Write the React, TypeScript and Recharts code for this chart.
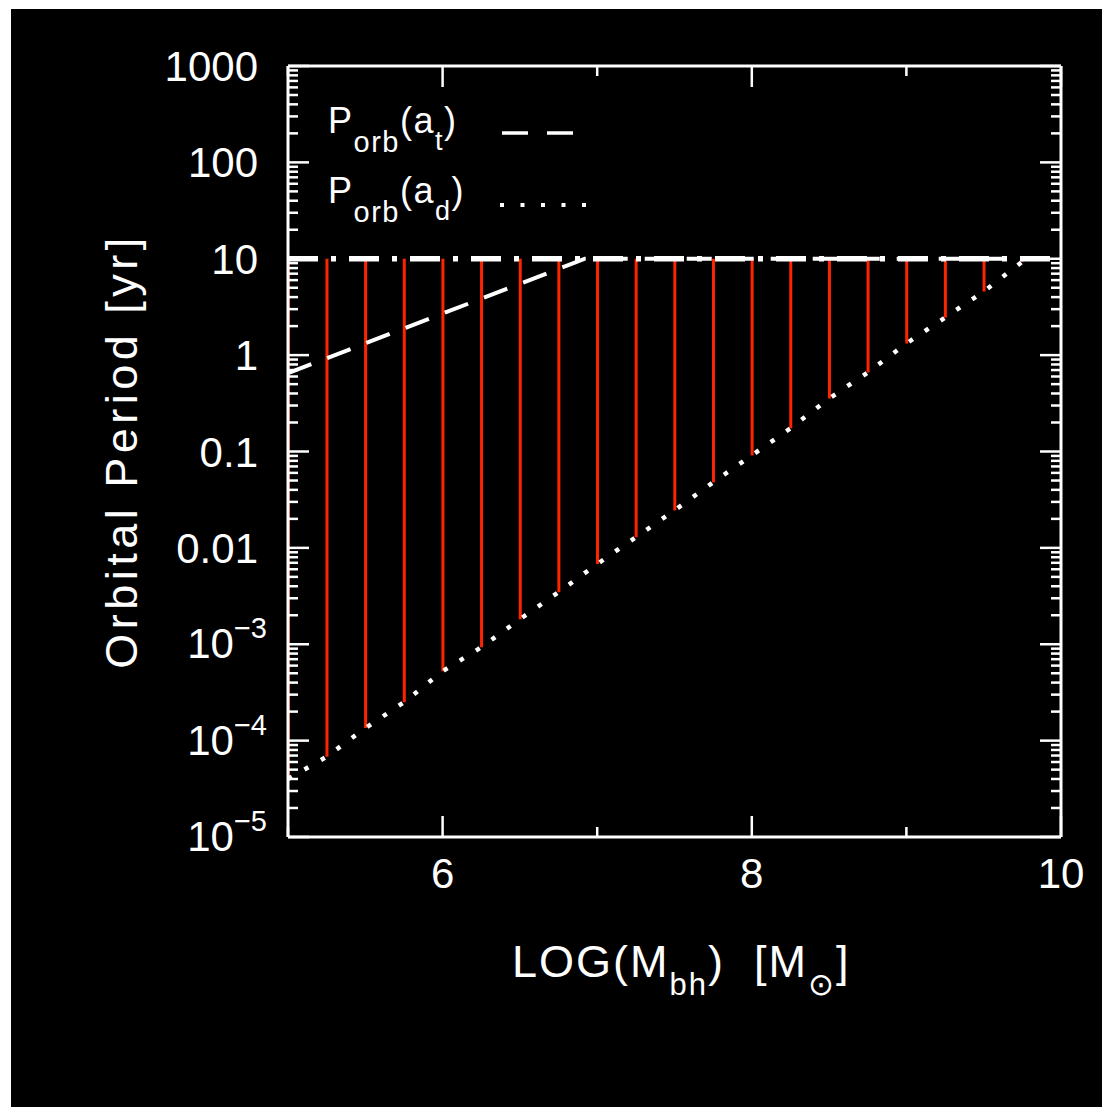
import React from "react";
import { ComposedChart, Bar, Line, XAxis, YAxis, Label } from "recharts";

// LOG(M_bh) positions of the red spans and the P_orb(a_d) value at each
const massLog = [5, 5.25, 5.5, 5.75, 6, 6.25, 6.5, 6.75, 7, 7.25, 7.5, 7.75, 8, 8.25, 8.5, 8.75, 9, 9.25, 9.5, 9.75];
const pDisk = [4.0e-5, 6.8e-5, 1.35e-4, 2.5e-4, 5.25e-4, 9.3e-4, 1.82e-3, 3.47e-3, 6.8e-3, 0.0129, 0.0245, 0.0479, 0.0912, 0.174, 0.355, 0.661, 1.32, 2.45, 4.57, 9.33];
const ceiling = 10; // top of every red span [yr]

// P_orb(a_t), dashed
const tidalMass = [5, 6.92, 10];
const tidalP = [0.65, 10, 10];

// 10 yr limit, dash-dot
const limitMass = [5, 10];
const limitP = [10, 10];

const xTicks = [5, 6, 7, 8, 9, 10];
const yMajor = [1e-5, 1e-4, 1e-3, 0.01, 0.1, 1, 10, 100, 1000];
const yMajorText = ["10^−5", "10^−4", "10^−3", "0.01", "0.1", "1", "10", "100", "1000"];
const minorSteps = [2, 3, 4, 5, 6, 7, 8, 9];

const yTicks = yMajor.flatMap((d, i) => (i < yMajor.length - 1 ? [d, ...minorSteps.map((k) => k * d)] : [d]));

const barRows = massLog.map((m, i) => ({ m, span: [pDisk[i], ceiling] }));
const diskRows = massLog.map((m, i) => ({ m, p: pDisk[i] }));
const tidalRows = tidalMass.map((m, i) => ({ m, p: tidalP[i] }));
const limitRows = limitMass.map((m, i) => ({ m, p: limitP[i] }));

const FONT = "'Liberation Sans', Arial, sans-serif";
const WHITE = "#ffffff";
const RED = "#ff2400";
const MAJOR = 21;
const MINOR = 10;

const majorIndex = (v: number) => yMajor.findIndex((d) => Math.abs(v / d - 1) < 1e-6);

const LeftTick = (props: any) => {
  const { x, y, payload } = props;
  const idx = majorIndex(payload.value);
  const len = idx >= 0 ? MAJOR : MINOR;
  let label = null;
  if (idx >= 0) {
    const txt = yMajorText[idx];
    if (txt.includes("^")) {
      const [base, exp] = txt.split("^");
      label = (
        <text x={x - 21} y={y + 14} textAnchor="end" fill={WHITE} fontSize={42} fontFamily={FONT}>
          {base}
          <tspan dy={-20} fontSize={29}>{exp}</tspan>
        </text>
      );
    } else {
      label = (
        <text x={x - 30} y={y + 15} textAnchor="end" fill={WHITE} fontSize={42} fontFamily={FONT}>
          {txt}
        </text>
      );
    }
  }
  return (
    <g>
      <line x1={x} x2={x + len} y1={y} y2={y} stroke={WHITE} strokeWidth={2.5} />
      {label}
    </g>
  );
};

const RightTick = (props: any) => {
  const { x, y, payload } = props;
  const len = majorIndex(payload.value) >= 0 ? MAJOR : MINOR;
  return <line x1={x} x2={x - len} y1={y} y2={y} stroke={WHITE} strokeWidth={2.5} />;
};

const BottomTick = (props: any) => {
  const { x, y, payload } = props;
  const major = payload.value % 2 === 0;
  return (
    <g>
      <line x1={x} x2={x} y1={y} y2={y - (major ? MAJOR : MINOR)} stroke={WHITE} strokeWidth={2.5} />
      {major && (
        <text x={x} y={y + 51} textAnchor="middle" fill={WHITE} fontSize={42} fontFamily={FONT}>
          {payload.value}
        </text>
      )}
    </g>
  );
};

const TopTick = (props: any) => {
  const { x, y, payload } = props;
  const major = payload.value % 2 === 0;
  return <line x1={x} x2={x} y1={y} y2={y + (major ? MAJOR : MINOR)} stroke={WHITE} strokeWidth={2.5} />;
};

const XTitle = () => (
  <text x={501} y={968} fill={WHITE} fontSize={45} fontFamily={FONT} letterSpacing={2}>
    LOG(M
    <tspan dy={18} fontSize={31}>bh</tspan>
    <tspan dy={-18}>{")\u00a0\u00a0[M"}</tspan>
    <tspan dy={18} fontSize={31}>⊙</tspan>
    <tspan dy={-18}>]</tspan>
  </text>
);

const YTitle = () => (
  <text
    x={126}
    y={442}
    transform="rotate(-90 126 442)"
    textAnchor="middle"
    fill={WHITE}
    fontSize={45}
    fontFamily={FONT}
    letterSpacing={4.5}
  >
    Orbital Period [yr]
  </text>
);

const LegendBox = () => (
  <g fontFamily={FONT} fill={WHITE}>
    <text x={317} y={124} fontSize={36} letterSpacing={1.5}>
      P<tspan dy={19} fontSize={29}>orb</tspan>
      <tspan dy={-19}>(a</tspan>
      <tspan dy={17} fontSize={27}>t</tspan>
      <tspan dy={-17}>)</tspan>
    </text>
    <line x1={491} x2={562} y1={124} y2={124} stroke={WHITE} strokeWidth={3.5} strokeDasharray="26 19" />
    <text x={317} y={194} fontSize={36} letterSpacing={1.5}>
      P<tspan dy={19} fontSize={29}>orb</tspan>
      <tspan dy={-19}>(a</tspan>
      <tspan dy={17} fontSize={27}>d</tspan>
      <tspan dy={-17}>)</tspan>
    </text>
    <line x1={489} x2={576} y1={196} y2={196} stroke={WHITE} strokeWidth={4} strokeDasharray="4 16.5" />
  </g>
);

export default function App() {
  return (
    <div style={{ position: "fixed", left: 11, top: 9, width: 1091, height: 1098, background: "#000" }}>
      <ComposedChart width={1091} height={1098} data={barRows} margin={{ top: 0, right: 0, bottom: 0, left: 0 }}>
        <XAxis
          dataKey="m"
          type="number"
          domain={[5, 10]}
          ticks={xTicks}
          interval={0}
          height={270}
          tickSize={0}
          tickMargin={0}
          tickLine={false}
          tick={<BottomTick />}
          axisLine={{ stroke: WHITE, strokeWidth: 3 }}
          allowDataOverflow
        >
          <Label content={<XTitle />} />
        </XAxis>
        <XAxis
          xAxisId="top"
          dataKey="m"
          type="number"
          orientation="top"
          domain={[5, 10]}
          ticks={xTicks}
          interval={0}
          height={57}
          tickSize={0}
          tickMargin={0}
          tickLine={false}
          tick={<TopTick />}
          axisLine={{ stroke: WHITE, strokeWidth: 3 }}
          allowDataOverflow
        >
          <Label content={<LegendBox />} />
        </XAxis>
        <YAxis
          scale="log"
          type="number"
          domain={[1e-5, 1000]}
          ticks={yTicks}
          interval={0}
          width={277}
          tickSize={0}
          tickMargin={0}
          tickLine={false}
          tick={<LeftTick />}
          axisLine={{ stroke: WHITE, strokeWidth: 3 }}
          allowDataOverflow
        >
          <Label content={<YTitle />} />
        </YAxis>
        <YAxis
          yAxisId="right"
          orientation="right"
          scale="log"
          type="number"
          domain={[1e-5, 1000]}
          ticks={yTicks}
          interval={0}
          width={41}
          tickSize={0}
          tickMargin={0}
          tickLine={false}
          tick={<RightTick />}
          axisLine={{ stroke: WHITE, strokeWidth: 3 }}
          allowDataOverflow
        />
        <Bar dataKey="span" fill={RED} barSize={3} isAnimationActive={false} />
        <Line
          data={limitRows}
          dataKey="p"
          type="linear"
          stroke={WHITE}
          strokeWidth={5.5}
          strokeDasharray="30 13 5 13"
          dot={false}
          isAnimationActive={false}
        />
        <Line
          data={tidalRows}
          dataKey="p"
          type="linear"
          stroke={WHITE}
          strokeWidth={4}
          strokeDasharray="25 17"
          dot={false}
          isAnimationActive={false}
        />
        <Line
          data={diskRows}
          dataKey="p"
          type="linear"
          stroke={WHITE}
          strokeWidth={4.5}
          strokeDasharray="4.5 14.5"
          dot={false}
          isAnimationActive={false}
        />
      </ComposedChart>
    </div>
  );
}
